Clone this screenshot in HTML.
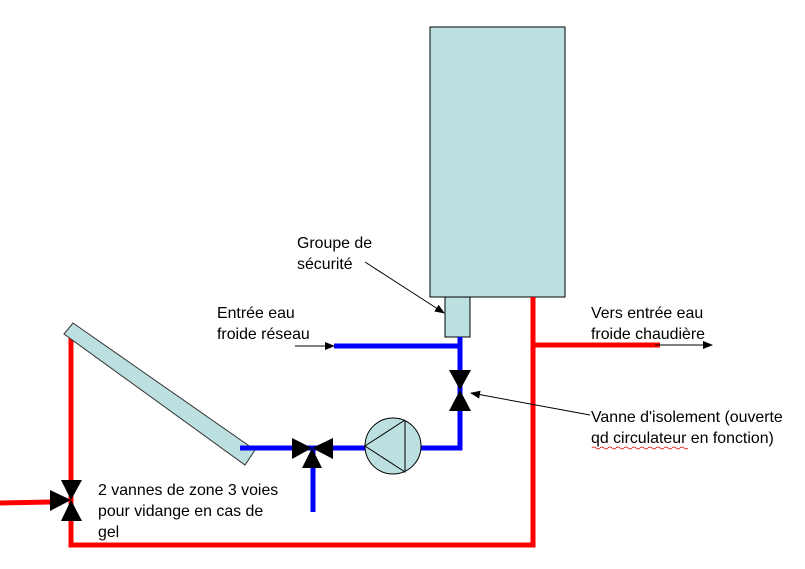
<!DOCTYPE html>
<html><head><meta charset="utf-8"><style>
html,body{margin:0;padding:0;background:#fff}
svg{display:block}
text{font-family:"Liberation Sans",Arial,sans-serif;font-size:15.9px;fill:#000}
</style></head><body>
<svg width="805" height="569" viewBox="0 0 805 569" xmlns="http://www.w3.org/2000/svg">
<defs>
<marker id="a" markerWidth="10" markerHeight="8" refX="9" refY="4" orient="auto" markerUnits="userSpaceOnUse">
<path d="M0,0 L10,4 L0,8 z" fill="#000"/></marker>
</defs>
<rect x="430" y="27" width="135" height="270" fill="#bcdfe0" stroke="#000" stroke-width="1"/>
<rect x="445" y="297" width="25" height="40" fill="#bcdfe0" stroke="#000" stroke-width="1"/>
<g stroke="#f00" stroke-width="5" fill="none">
<polyline points="71,330 71,545 533,545 533,297"/>
<line x1="533" y1="345" x2="660" y2="345"/>
<line x1="0" y1="503" x2="50" y2="502"/>
</g>
<line x1="655" y1="345" x2="712" y2="345" stroke="#000" stroke-width="1" marker-end="url(#a)"/>
<polygon points="64,334 73,323 255,450 245,465" fill="#bcdfe0" stroke="#333" stroke-width="1"/>
<g stroke="#00f" stroke-width="5" fill="none">
<line x1="334" y1="346" x2="460" y2="346"/>
<polyline points="460,337 460,448 420,448"/>
<line x1="240" y1="448" x2="366" y2="448"/>
<line x1="313" y1="448" x2="313" y2="512"/>
</g>
<circle cx="393" cy="446" r="28" fill="#bcdfe0" stroke="#000" stroke-width="1"/>
<polyline points="405,420 365,446 405,472 405,420" fill="none" stroke="#000" stroke-width="1"/>
<g fill="#000">
<polygon points="449,370 471,370 460,390"/>
<polygon points="449,411 471,411 460,390"/>
<polygon points="292,438 292,459 312,448"/>
<polygon points="333,438 333,459 312,448"/>
<polygon points="302,468 322,468 312,448"/>
<polygon points="61,480 82,480 71,500"/>
<polygon points="61,521 82,521 71,500"/>
<polygon points="50,490 50,511 71,500"/>
</g>
<g stroke="#000" stroke-width="1">
<line x1="365" y1="262" x2="444" y2="313" marker-end="url(#a)"/>
<line x1="295" y1="346" x2="334" y2="346" marker-end="url(#a)"/>
<line x1="590" y1="415" x2="471" y2="393" marker-end="url(#a)"/>
</g>
<text x="297" y="248">Groupe de</text>
<text x="297" y="269">sécurité</text>
<text x="217" y="318">Entrée eau</text>
<text x="217" y="339">froide réseau</text>
<text x="591" y="318">Vers entrée eau</text>
<text x="591" y="339">froide chaudière</text>
<text x="591" y="422">Vanne d'isolement (ouverte</text>
<text x="591" y="443">qd circulateur en fonction)</text>
<path d="M592,448 q2,-2 4,0 t4,0 t4,0 t4,0 t4,0 t4,0 t4,0 t4,0 t4,0 t4,0 t4,0 t4,0 t4,0 t4,0 t4,0 t4,0 t4,0 t4,0 t4,0 t4,0 t4,0 t4,0 t4,0 t4,0" fill="none" stroke="#d00" stroke-width="0.8"/>
<text x="98" y="495">2 vannes de zone 3 voies</text>
<text x="98" y="516">pour vidange en cas de</text>
<text x="98" y="537">gel</text>
</svg>
</body></html>
